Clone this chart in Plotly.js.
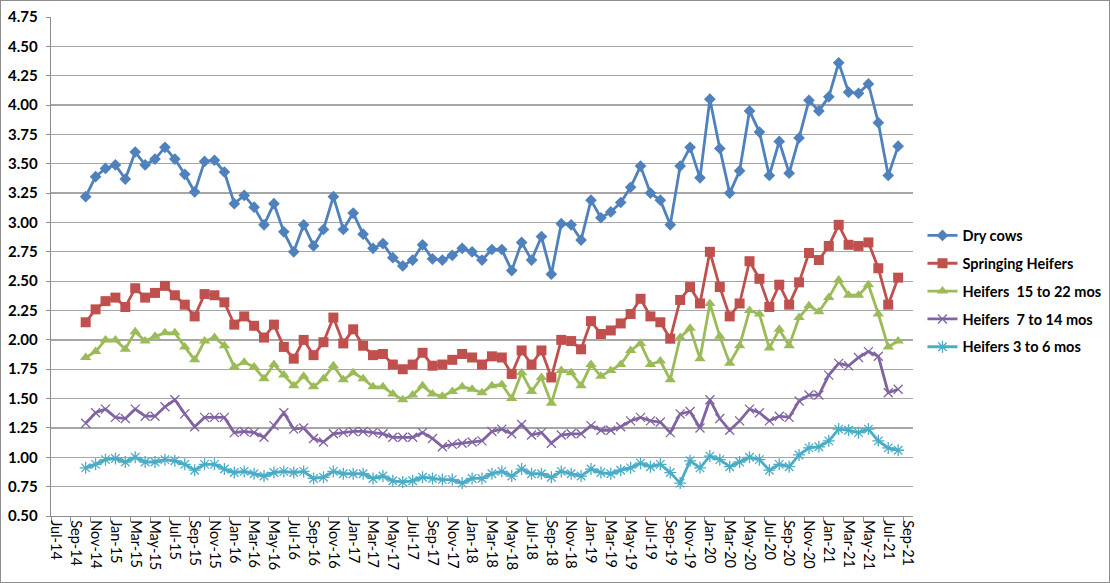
<!DOCTYPE html>
<html>
<head>
<meta charset="utf-8">
<script src="https://cdn.plot.ly/plotly-3.0.1.min.js"></script>
<style>
  html, body { margin: 0; padding: 0; background: #fff; }
  #frame { width: 1110px; height: 583px; box-sizing: border-box; border: 1px solid #8e8e8e; }
  #chart { width: 1108px; height: 581px; }
</style>
</head>
<body>
<div id="frame"><div id="chart"></div></div>
<script>
// month axis runs Jul-14 .. Sep-21, data Oct-14 .. Aug-21
let month_names = ["Jan", "Feb", "Mar", "Apr", "May", "Jun", "Jul", "Aug", "Sep", "Oct", "Nov", "Dec"];
let axis_months = [];
for (var y = 14; y <= 21; ++y) {
    for (var m = 0; m < 12; ++m) {
        if (y == 14 && m < 6) continue;
        if (y == 21 && m > 8) continue;
        axis_months.push(month_names[m] + "-" + y);
    }
}
let data_months = axis_months.slice(3, 86);

let series_names = [
    "Dry cows",
    "Springing Heifers",
    "Heifers\u00a0 15 to 22 mos",
    "Heifers\u00a0 7 to 14 mos",
    "Heifers 3 to 6 mos"
];

let dry_cows = [
    3.22, 3.39, 3.46, 3.49, 3.37, 3.60, 3.49, 3.54, 3.64, 3.54, 3.41, 3.26,
    3.52, 3.53, 3.43, 3.16, 3.23, 3.13, 2.98, 3.16, 2.92, 2.75, 2.98, 2.80,
    2.94, 3.22, 2.94, 3.08, 2.90, 2.78, 2.82, 2.70, 2.63, 2.68, 2.81, 2.69,
    2.68, 2.72, 2.78, 2.75, 2.68, 2.77, 2.77, 2.59, 2.83, 2.68, 2.88, 2.56,
    2.99, 2.98, 2.85, 3.19, 3.04, 3.09, 3.17, 3.30, 3.48, 3.25, 3.19, 2.98,
    3.48, 3.64, 3.38, 4.05, 3.63, 3.25, 3.44, 3.95, 3.77, 3.40, 3.69, 3.42,
    3.72, 4.04, 3.95, 4.07, 4.36, 4.11, 4.10, 4.18, 3.85, 3.40, 3.65
];
let springing_heifers = [
    2.15, 2.26, 2.33, 2.36, 2.28, 2.44, 2.36, 2.40, 2.46, 2.38, 2.30, 2.20,
    2.39, 2.38, 2.32, 2.13, 2.20, 2.12, 2.02, 2.13, 1.94, 1.84, 2.00, 1.87,
    1.98, 2.19, 1.97, 2.09, 1.95, 1.87, 1.88, 1.79, 1.75, 1.79, 1.89, 1.78,
    1.79, 1.83, 1.88, 1.85, 1.79, 1.86, 1.85, 1.71, 1.91, 1.79, 1.91, 1.68,
    2.00, 1.99, 1.92, 2.16, 2.05, 2.08, 2.14, 2.22, 2.35, 2.20, 2.15, 2.01,
    2.34, 2.45, 2.31, 2.75, 2.45, 2.20, 2.31, 2.67, 2.52, 2.28, 2.47, 2.30,
    2.49, 2.74, 2.68, 2.80, 2.98, 2.81, 2.80, 2.83, 2.61, 2.30, 2.53
];
let heifers_15_22 = [
    1.85, 1.90, 2.00, 2.00, 1.92, 2.07, 1.99, 2.03, 2.06, 2.06, 1.94, 1.83,
    1.99, 2.02, 1.95, 1.77, 1.81, 1.77, 1.67, 1.79, 1.70, 1.61, 1.69, 1.60,
    1.67, 1.78, 1.66, 1.72, 1.67, 1.60, 1.60, 1.54, 1.49, 1.53, 1.61, 1.54,
    1.52, 1.56, 1.60, 1.58, 1.55, 1.61, 1.62, 1.50, 1.72, 1.56, 1.68, 1.46,
    1.74, 1.72, 1.61, 1.79, 1.69, 1.74, 1.79, 1.91, 1.97, 1.79, 1.82, 1.66,
    2.02, 2.10, 1.84, 2.31, 2.03, 1.80, 1.95, 2.25, 2.22, 1.93, 2.09, 1.95,
    2.19, 2.29, 2.24, 2.36, 2.51, 2.38, 2.38, 2.47, 2.22, 1.94, 1.99
];
let heifers_7_14 = [
    1.29, 1.38, 1.41, 1.34, 1.33, 1.41, 1.35, 1.35, 1.43, 1.49, 1.37, 1.26,
    1.34, 1.34, 1.34, 1.21, 1.22, 1.21, 1.17, 1.27, 1.38, 1.24, 1.25, 1.16,
    1.13, 1.20, 1.21, 1.22, 1.22, 1.21, 1.20, 1.17, 1.17, 1.17, 1.21, 1.16,
    1.09, 1.11, 1.12, 1.13, 1.14, 1.22, 1.24, 1.20, 1.28, 1.19, 1.21, 1.12,
    1.19, 1.20, 1.20, 1.27, 1.23, 1.23, 1.26, 1.31, 1.34, 1.31, 1.30, 1.21,
    1.37, 1.39, 1.25, 1.49, 1.33, 1.23, 1.31, 1.41, 1.38, 1.31, 1.35, 1.34,
    1.48, 1.53, 1.53, 1.70, 1.80, 1.78, 1.85, 1.90, 1.86, 1.55, 1.58
];
let heifers_3_6 = [
    0.91, 0.94, 0.98, 0.99, 0.96, 1.00, 0.96, 0.96, 0.98, 0.97, 0.94, 0.89,
    0.94, 0.94, 0.90, 0.87, 0.88, 0.86, 0.84, 0.87, 0.88, 0.87, 0.88, 0.82,
    0.83, 0.88, 0.86, 0.86, 0.86, 0.82, 0.84, 0.80, 0.79, 0.80, 0.83, 0.82,
    0.81, 0.81, 0.78, 0.82, 0.82, 0.86, 0.88, 0.84, 0.90, 0.86, 0.86, 0.83,
    0.88, 0.86, 0.84, 0.90, 0.87, 0.86, 0.89, 0.91, 0.95, 0.92, 0.94, 0.87,
    0.78, 0.97, 0.91, 1.01, 0.98, 0.92, 0.96, 1.00, 0.98, 0.89, 0.94, 0.92,
    1.02, 1.08, 1.09, 1.14, 1.24, 1.23, 1.21, 1.24, 1.14, 1.08, 1.06
];

let y_ticks = [0.50, 0.75, 1.00, 1.25, 1.50, 1.75, 2.00, 2.25, 2.50, 2.75, 3.00, 3.25, 3.50, 3.75, 4.00, 4.25, 4.50, 4.75];

let series_values = [dry_cows, springing_heifers, heifers_15_22, heifers_7_14, heifers_3_6];
let series_colors = ["#4f81bd", "#c0504d", "#9bbb59", "#8064a2", "#4bacc6"];
let series_symbols = ["diamond", "square", "triangle-up", "x-thin-open", "asterisk-open"];
let series_sizes = [9, 10, 10, 9, 10];

let font_family = "Lato, 'Liberation Sans', sans-serif";

var data = [];
for (var i = 0; i < series_values.length; ++i) {
    var open = series_symbols[i].indexOf("open") >= 0;
    data.push({
        type: "scatter",
        mode: "lines+markers",
        name: series_names[i],
        legendgroup: "g" + i,
        x: data_months,
        y: series_values[i],
        line: { color: series_colors[i], width: 2.8 },
        marker: {
            symbol: series_symbols[i],
            size: series_sizes[i],
            color: series_colors[i],
            line: { color: series_colors[i], width: open ? 1.3 : 0 }
        }
    });
}

var layout = {
    width: 1108,
    height: 581,
    margin: { l: 50, r: 196, t: 16, b: 66, autoexpand: false },
    paper_bgcolor: "#ffffff",
    plot_bgcolor: "#ffffff",
    font: { family: font_family, color: "#000000" },
    showlegend: true,
    legend: {
        x: 1.011,
        xanchor: "left",
        y: 0.45,
        yanchor: "middle",
        traceorder: "grouped",
        tracegroupgap: 6,
        font: { size: 14.5, weight: "bold", family: font_family },
        bgcolor: "rgba(0,0,0,0)"
    },
    xaxis: {
        type: "category",
        categoryorder: "array",
        categoryarray: axis_months,
        range: [-0.5, axis_months.length - 0.5],
        dtick: 2,
        tickson: "boundaries",
        ticks: "outside",
        ticklen: 5,
        tickcolor: "#8e8e8e",
        tickangle: 90,
        tickfont: { size: 14.5, family: font_family },
        showline: true,
        linecolor: "#8e8e8e",
        linewidth: 1.3,
        showgrid: false,
        zeroline: false,
        automargin: false,
        fixedrange: true
    },
    yaxis: {
        range: [0.5, 4.75],
        tickvals: y_ticks,
        tickformat: ".2f",
        ticks: "outside",
        ticklen: 4,
        tickcolor: "#8e8e8e",
        tickfont: { size: 15, weight: "bold", family: font_family },
        ticklabelstandoff: 5,
        showline: true,
        linecolor: "#8e8e8e",
        linewidth: 1.3,
        showgrid: true,
        gridcolor: "#a6a6a6",
        gridwidth: 1.3,
        zeroline: false,
        automargin: false,
        fixedrange: true
    }
};

Plotly.newPlot("chart", data, layout, { displayModeBar: false, staticPlot: true });
</script>
</body>
</html>
